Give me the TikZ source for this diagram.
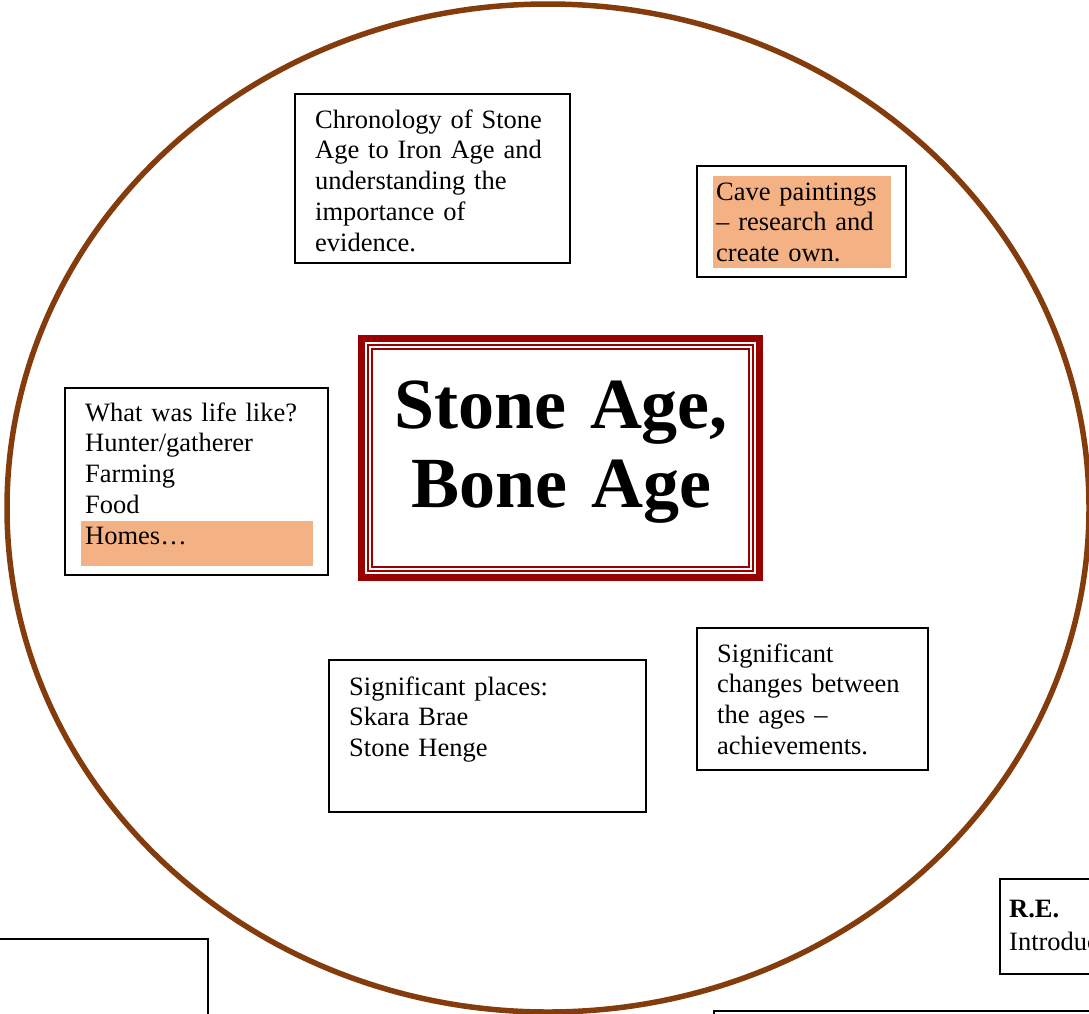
\documentclass[tikz,border=0pt]{standalone}
\usepackage{fontspec}
\setmainfont{Liberation Serif}
\usetikzlibrary{positioning, calc}
\definecolor{ringbrown}{RGB}{132,60,12}
\definecolor{paleorange}{RGB}{244,177,131}
\definecolor{framered}{RGB}{153,0,0}
\tikzset{
         mybox/.style={draw, fill=white, line width=2pt, inner sep=0pt, anchor=north west},
         myfill/.style={fill=paleorange, draw=none, inner sep=0pt, anchor=north west},
         mytext/.style={anchor=base west, inner sep=0pt, align=left, text width=#1,
                        font=\fontsize{26.5}{30.9}\selectfont},
         mytitle/.style={anchor=base, inner sep=0pt, align=center, text width=390pt,
                         font=\fontsize{72}{79}\selectfont\bfseries},
         myring/.style={draw=ringbrown, line width=5.5pt}
      }

\begin{document}
\begin{tikzpicture}[x=1pt, y=-1pt]
                     \useasboundingbox (0,0) rectangle (1089,1013);
                     \clip (0,0) rectangle (1089,1013);
                     % the ring
                     \draw[myring] (548,508) ellipse [x radius=541pt, y radius=504pt];
                     % centre title
                     \node[draw=framered, line width=7pt, inner sep=0pt, anchor=north west,
                           minimum width=398pt, minimum height=239pt] (frame) at (358,335) {};
                     \draw[framered, line width=2pt] ([shift={(10,10)}]frame.north west) rectangle ([shift={(-10,-10)}]frame.south east);
                     \draw[framered, line width=1.5pt] ([shift={(14,14)}]frame.north west) rectangle ([shift={(-14,-14)}]frame.south east);
                     \node[mytitle] (title) at (561,428) {Stone Age,\\Bone Age};
                     % topic boxes
                     \node[mybox, minimum width=275pt, minimum height=169pt] (chrono) at (294,93) {};
                     \node[mytext=250pt] (chronotxt) at (315,128) {Chronology of Stone\\Age to Iron Age and\\understanding the\\importance of\\evidence.};
                     \node[mybox, minimum width=209pt, minimum height=111pt] (cave) at (696,165) {};
                     \node[myfill, minimum width=178pt, minimum height=92pt] (cavefill) at (713,176) {};
                     \node[mytext=180pt] (cavetxt) at (716,200) {Cave paintings\\– research and\\create own.};
                     \node[mybox, minimum width=263pt, minimum height=187pt] (life) at (64,387) {};
                     \node[myfill, minimum width=232pt, minimum height=45pt] (lifefill) at (81,521) {};
                     \node[mytext=240pt] (lifetxt) at (85,421) {What was life like?\\Hunter/gatherer\\Farming\\Food\\Homes…};
                     \node[mybox, minimum width=317pt, minimum height=152pt] (places) at (328,659) {};
                     \node[mytext=280pt] (placestxt) at (349,695) {Significant places:\\Skara Brae\\Stone Henge};
                     \node[mybox, minimum width=231pt, minimum height=142pt] (changes) at (696,627) {};
                     \node[mytext=210pt] (changestxt) at (717,662) {Significant\\changes between\\the ages –\\achievements.};
                     % boxes cut by the page edge
                     \node[mybox, minimum width=200pt, minimum height=95pt] (re) at (999,878) {};
                     \node[mytext=180pt] (retxt) at (1009,917) {\textbf{R.E.}\\[2.5pt]Introduc};
                     \node[mybox, minimum width=216pt, minimum height=200pt] (leftbox) at (-9,938) {};
                     \node[mybox, minimum width=500pt, minimum height=100pt] (rightbox) at (713,1010) {};
               \end{tikzpicture}
\end{document}
